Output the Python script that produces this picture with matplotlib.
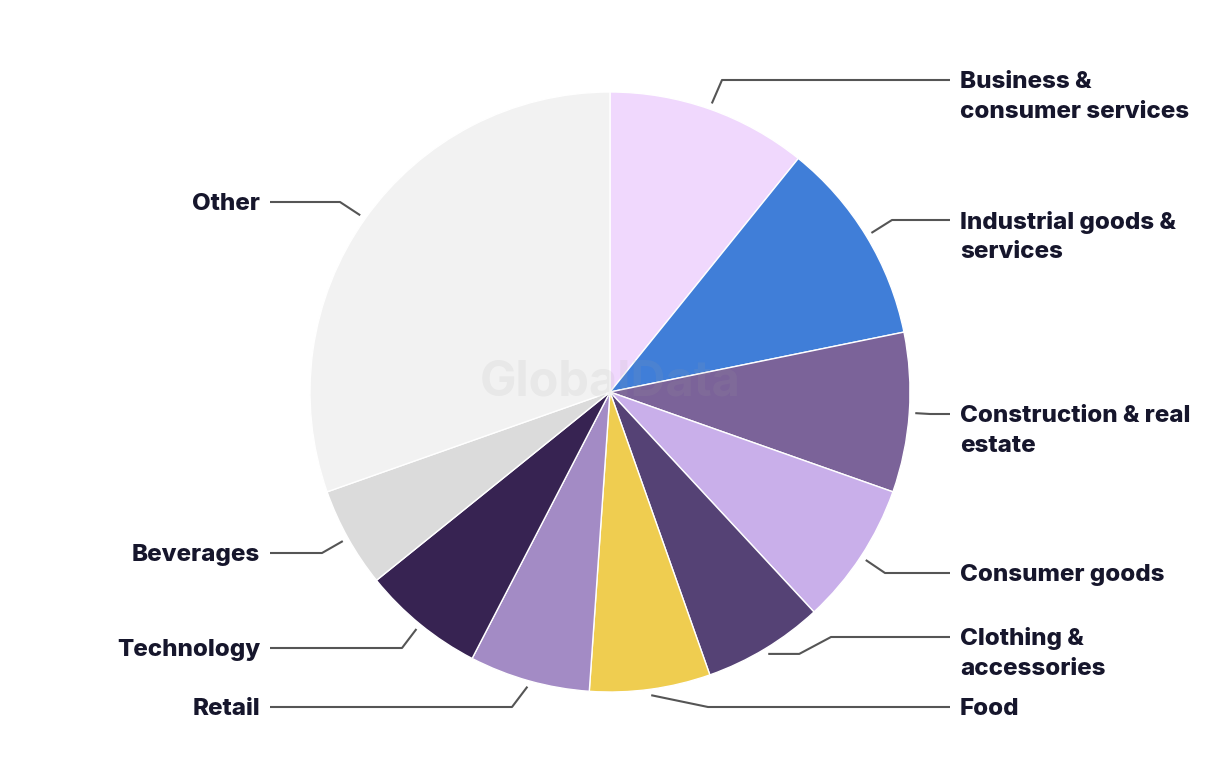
import numpy as np
import matplotlib.pyplot as plt

# sector shares (%), clockwise from 12 o'clock
sectors = ['Business &\nconsumer services', 'Industrial goods &\nservices',
           'Construction & real\nestate', 'Consumer goods', 'Clothing &\naccessories',
           'Food', 'Retail', 'Technology', 'Beverages', 'Other']
shares = [10.8, 11.0, 8.6, 7.7, 6.5, 6.5, 6.5, 6.6, 5.4, 30.4]
colors = ['#F0D8FD', '#407ED8', '#7B6399', '#C9AFEA', '#554275',
          '#EFCD50', '#A38BC5', '#372352', '#DBDBDB', '#F2F2F2']

# label layout (pixels, y measured from top): label y, elbow x
label_y = [80, 220, 414, 573, 637, 707, 707, 648, 553, 202]
elbow_x = [722, 892, 930, 885, 831, 708, 512, 402, 322, 340]

W, H = 1220, 764
cx, cy, R = 610, 392, 300

fig = plt.figure(figsize=(W / 100, H / 100), dpi=100)
ax = fig.add_axes([0, 0, 1, 1])

wedges, _ = ax.pie(shares, colors=colors, startangle=90, counterclock=False,
                   center=(cx, H - cy), radius=R,
                   wedgeprops=dict(edgecolor='white', linewidth=1))
ax.set_xlim(0, W)
ax.set_ylim(0, H)
ax.axis('off')

ax.text(cx, H - 383, 'GlobalData', ha='center', va='center', fontsize=35,
        fontweight='bold', family='Inter', color='#a0a0a0', alpha=0.12, zorder=5)

line_kw = dict(color='#555555', lw=1.5, solid_capstyle='butt', zorder=6)
text_kw = dict(va='center', fontsize=17.4, fontweight='heavy', family='Inter',
               color='#16162C')
for i, w in enumerate(wedges):
    mid = np.deg2rad((w.theta1 + w.theta2) / 2)
    sx = cx + 306 * np.cos(mid)
    sy = H - cy + 306 * np.sin(mid)
    ly = H - label_y[i]
    right = np.cos(mid) > 0
    xs, ys = [sx], [sy]
    if i == 4:
        # clothing leader has a small horizontal jog
        xs.append(sx + 31)
        ys.append(sy)
    xs += [elbow_x[i], 950 if right else 270]
    ys += [ly, ly]
    ax.plot(xs, ys, **line_kw)
    if right:
        for k, t in enumerate(sectors[i].split('\n')):
            ax.text(960, ly - 2 - k * 30, t, ha='left', **text_kw)
    else:
        ax.text(260, ly - 2, sectors[i], ha='right', **text_kw)

fig.savefig('out.png', dpi=100, facecolor='white')
